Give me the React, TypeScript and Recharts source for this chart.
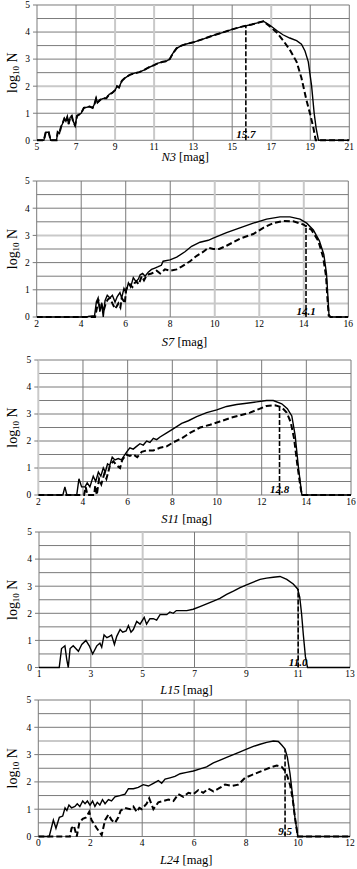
import React from 'react';
import { LineChart, Line, XAxis, YAxis, ReferenceLine, ReferenceDot } from 'recharts';

type Pt = [number, number];

const FONT = 'Liberation Serif, DejaVu Serif, serif';

// ---------- Panel 1: N3 ----------
const n3Ticks = [5, 7, 9, 11, 13, 15, 17, 19, 21];
const n3Solid: Pt[] = [
  [5, 0], [5.35, 0], [5.45, 0.3], [5.6, 0.3], [5.7, 0], [6.0, 0], [6.06, 0.3], [6.15, 0.25], [6.23, 0.5],
  [6.3, 0.6], [6.4, 0.8], [6.48, 0.7], [6.55, 0.85], [6.62, 0.6], [6.7, 0.85], [6.78, 0.9], [6.85, 0.7],
  [6.95, 0.55], [7.05, 0.9], [7.15, 0.95], [7.26, 1.0], [7.4, 1.2], [7.55, 1.22], [7.7, 1.25], [7.85, 1.2],
  [7.95, 1.35], [8.03, 1.55], [8.1, 1.4], [8.25, 1.5], [8.4, 1.55], [8.55, 1.55], [8.7, 1.7], [8.85, 1.75],
  [9.0, 1.85], [9.1, 2.0], [9.2, 1.95], [9.35, 2.2], [9.5, 2.3], [9.75, 2.42], [10.0, 2.48], [10.25, 2.52],
  [10.5, 2.6], [10.75, 2.7], [11.0, 2.78], [11.2, 2.85], [11.45, 2.9], [11.6, 2.92], [11.8, 3.0], [11.95, 3.2],
  [12.15, 3.4], [12.4, 3.5], [12.65, 3.56], [13.0, 3.62], [13.5, 3.74], [14.0, 3.87], [14.5, 3.98], [15.0, 4.1],
  [15.5, 4.2], [16.0, 4.28], [16.3, 4.34], [16.6, 4.4], [16.95, 4.24], [17.3, 4.05], [17.6, 3.9], [17.95, 3.78],
  [18.3, 3.68], [18.55, 3.55], [18.73, 3.3], [18.9, 2.9], [19.07, 2.0], [19.2, 1.0], [19.3, 0.45], [19.42, 0], [21, 0],
];
const n3DashedTail: Pt[] = [
  [16.6, 4.4], [16.95, 4.2], [17.3, 3.97], [17.6, 3.7], [17.95, 3.35], [18.3, 2.9], [18.55, 2.3], [18.8, 1.5],
  [19.0, 0.95], [19.15, 0.5], [19.28, 0], [21, 0],
];
const n3Dashed: Pt[] = [...n3Solid.filter(([x]) => x < 16.6), ...n3DashedTail];
const n3Cut: Pt[] = [[15.7, 0], [15.7, 4.22]];

// ---------- Panel 2: S7 ----------
const s7Ticks = [2, 4, 6, 8, 10, 12, 14, 16];
const s7Solid: Pt[] = [
  [2, 0], [4.0, 0], [4.3, 0.02], [4.6, 0.05], [4.68, 0.55], [4.76, 0.7], [4.84, 0.2], [4.92, 0.5], [4.99, 0],
  [5.07, 0.6], [5.17, 0.8], [5.29, 0.7], [5.4, 0.8], [5.52, 0.55], [5.62, 0.75], [5.74, 0.9], [5.82, 0.7],
  [5.92, 1.05], [6.01, 0.9], [6.12, 1.25], [6.22, 1.1], [6.34, 1.45], [6.46, 1.3], [6.57, 1.4], [6.65, 1.55],
  [6.76, 1.6], [6.87, 1.5], [7.01, 1.65], [7.16, 1.75], [7.31, 1.8], [7.46, 1.85], [7.6, 1.9], [7.68, 2.05],
  [7.99, 2.1], [8.29, 2.2], [8.66, 2.4], [8.96, 2.6], [9.34, 2.75], [9.71, 2.82], [9.93, 2.9], [10.53, 3.1],
  [11.13, 3.28], [11.73, 3.45], [12.33, 3.6], [12.93, 3.68], [13.38, 3.68], [13.83, 3.6], [14.13, 3.45],
  [14.43, 3.2], [14.7, 2.8], [14.9, 2.3], [15.02, 1.6], [15.08, 0.8], [15.13, 0.1], [15.2, 0], [16, 0],
];
const s7Dashed: Pt[] = [
  [2, 0], [4.62, 0], [4.7, 0.3], [4.77, 0.65], [4.84, 0.3], [4.92, 0.45], [5.0, 0.2], [5.1, 0.5], [5.2, 0.65],
  [5.29, 0.7], [5.4, 0.5], [5.52, 0.3], [5.6, 0.4], [5.67, 0.5], [5.76, 0.35], [5.82, 0.7], [5.9, 0.6],
  [5.96, 0.5], [6.01, 1.0], [6.1, 1.15], [6.19, 1.2], [6.3, 1.1], [6.4, 1.25], [6.49, 1.3], [6.58, 1.2],
  [6.72, 1.5], [6.82, 1.35], [6.95, 1.55], [7.16, 1.6], [7.39, 1.7], [7.55, 1.6], [7.76, 1.75], [7.99, 1.7],
  [8.29, 1.75], [8.51, 1.85], [8.89, 2.05], [9.19, 2.25], [9.49, 2.4], [9.71, 2.55], [9.93, 2.5], [10.2, 2.5],
  [10.53, 2.62], [11.13, 2.88], [11.73, 3.05], [12.18, 3.28], [12.63, 3.45], [13.08, 3.53], [13.53, 3.52],
  [13.98, 3.4], [14.35, 3.2], [14.65, 2.8], [14.87, 2.2], [15.0, 1.5], [15.06, 0.7], [15.12, 0.05], [15.2, 0], [16, 0],
];
const s7Cut: Pt[] = [[14.1, 0], [14.1, 3.38]];

// ---------- Panel 3: S11 ----------
const s11Ticks = [2, 4, 6, 8, 10, 12, 14, 16];
const s11Solid: Pt[] = [
  [2, 0], [3.1, 0], [3.19, 0.3], [3.28, 0], [3.72, 0], [3.82, 0.6], [3.94, 0.3], [4.09, 0.3], [4.19, 0.45],
  [4.31, 0.3], [4.46, 0.7], [4.57, 0.5], [4.69, 0.85], [4.8, 0.7], [4.91, 1.0], [5.0, 0.85], [5.1, 1.15],
  [5.2, 1.1], [5.31, 1.4], [5.43, 1.3], [5.58, 1.35], [5.72, 1.3], [5.84, 1.45], [5.96, 1.6], [6.1, 1.75],
  [6.25, 1.7], [6.4, 1.8], [6.55, 1.9], [6.7, 1.85], [6.85, 2.0], [7.0, 1.95], [7.15, 2.1], [7.3, 2.05],
  [7.45, 2.15], [7.75, 2.3], [8.04, 2.45], [8.42, 2.65], [8.72, 2.75], [9.09, 2.9], [9.54, 3.05], [9.99, 3.15],
  [10.43, 3.28], [10.88, 3.35], [11.33, 3.4], [11.78, 3.45], [12.22, 3.5], [12.52, 3.5], [12.9, 3.38],
  [13.15, 3.2], [13.35, 2.93], [13.5, 2.2], [13.65, 1.0], [13.8, 0], [16, 0],
];
const s11Dashed: Pt[] = [
  [2, 0], [4.05, 0], [4.12, 0.3], [4.2, 0], [4.5, 0], [4.55, 0.35], [4.62, 0], [4.72, 0.6], [4.82, 0.4],
  [4.96, 0.8], [5.05, 0.6], [5.21, 1.1], [5.36, 1.25], [5.5, 1.1], [5.66, 1.0], [5.76, 1.3], [5.93, 1.5],
  [6.1, 1.45], [6.25, 1.5], [6.43, 1.4], [6.63, 1.6], [6.85, 1.65], [7.15, 1.65], [7.45, 1.75], [7.75, 1.8],
  [8.04, 1.95], [8.42, 2.1], [8.79, 2.3], [9.24, 2.5], [9.69, 2.6], [10.13, 2.72], [10.58, 2.85], [11.03, 2.95],
  [11.48, 3.05], [11.93, 3.2], [12.22, 3.3], [12.6, 3.32], [12.9, 3.25], [13.12, 3.05], [13.3, 2.7],
  [13.45, 2.1], [13.6, 1.1], [13.72, 0.4], [13.8, 0], [16, 0],
];
const s11Cut: Pt[] = [[12.8, 0], [12.8, 3.28]];

// ---------- Panel 4: L15 ----------
const l15Ticks = [1, 3, 5, 7, 9, 11, 13];
const l15Solid: Pt[] = [
  [1, 0], [1.78, 0], [1.87, 0.7], [2.0, 0.8], [2.07, 0.3], [2.13, 0], [2.2, 0.7], [2.32, 0.8], [2.52, 0.6],
  [2.65, 0.85], [2.81, 1.0], [2.94, 0.8], [3.07, 0.5], [3.23, 0.8], [3.35, 0.9], [3.42, 0.75], [3.51, 1.2],
  [3.62, 1.1], [3.72, 1.15], [3.8, 1.2], [3.91, 0.85], [4.0, 1.15], [4.13, 1.4], [4.23, 1.3], [4.36, 1.35],
  [4.45, 1.55], [4.55, 1.3], [4.64, 1.4], [4.77, 1.7], [4.9, 1.6], [5.06, 1.85], [5.15, 1.6], [5.28, 1.8],
  [5.41, 1.8], [5.54, 1.75], [5.67, 1.95], [5.8, 1.95], [5.93, 1.95], [6.05, 2.05], [6.18, 2.0], [6.3, 2.1],
  [6.44, 2.1], [6.7, 2.1], [6.95, 2.15], [7.21, 2.25], [7.47, 2.35], [7.73, 2.45], [7.98, 2.55], [8.24, 2.7],
  [8.5, 2.82], [8.76, 2.95], [9.01, 3.05], [9.27, 3.15], [9.53, 3.25], [9.78, 3.3], [10.04, 3.33], [10.3, 3.36],
  [10.56, 3.25], [10.81, 3.08], [10.98, 2.9], [11.06, 2.6], [11.13, 2.0], [11.2, 1.2], [11.28, 0.4], [11.36, 0], [13, 0],
];
const l15Cut: Pt[] = [[11.0, 0], [11.0, 2.9]];

// ---------- Panel 5: L24 ----------
const l24Ticks = [0, 2, 4, 6, 8, 10, 12];
const l24Solid: Pt[] = [
  [0, 0], [0.42, 0], [0.58, 0.6], [0.68, 0.3], [0.81, 0.7], [0.94, 0.75], [1.03, 1.05], [1.1, 0.95],
  [1.18, 1.15], [1.28, 1.05], [1.41, 1.1], [1.5, 1.2], [1.6, 1.1], [1.71, 1.3], [1.8, 1.2], [1.89, 1.3],
  [1.99, 1.15], [2.09, 1.3], [2.18, 1.1], [2.27, 1.25], [2.37, 1.15], [2.47, 1.35], [2.57, 1.2], [2.7, 1.35],
  [2.82, 1.3], [2.95, 1.45], [3.14, 1.5], [3.34, 1.55], [3.47, 1.75], [3.66, 1.75], [3.85, 1.8], [4.04, 1.9],
  [4.24, 1.85], [4.43, 1.95], [4.62, 2.05], [4.75, 1.95], [4.88, 2.1], [5.07, 2.15], [5.26, 2.2], [5.46, 2.3],
  [5.71, 2.35], [5.97, 2.4], [6.23, 2.48], [6.48, 2.55], [6.74, 2.7], [7.0, 2.8], [7.25, 2.9], [7.51, 3.0],
  [7.77, 3.1], [8.02, 3.2], [8.28, 3.3], [8.54, 3.38], [8.79, 3.45], [9.05, 3.5], [9.24, 3.48], [9.37, 3.35],
  [9.5, 3.2], [9.59, 2.9], [9.69, 2.3], [9.79, 1.5], [9.88, 0.7], [9.99, 0], [12, 0],
];
const l24Dashed: Pt[] = [
  [0, 0], [1.22, 0], [1.28, 0.3], [1.37, 0.4], [1.48, 0.0], [1.58, 0.5], [1.71, 0.65], [1.84, 0.7],
  [1.96, 0.9], [2.05, 0.6], [2.25, 0.3], [2.44, 0.05], [2.57, 0.6], [2.7, 0.8], [2.82, 0.6], [2.95, 0.5],
  [3.08, 0.7], [3.17, 0.95], [3.34, 1.05], [3.53, 1.0], [3.66, 1.1], [3.79, 0.9], [3.89, 1.05], [3.98, 1.0],
  [4.17, 1.2], [4.27, 1.4], [4.43, 1.0], [4.62, 1.25], [4.81, 1.3], [5.01, 1.35], [5.2, 1.3], [5.39, 1.55],
  [5.58, 1.45], [5.78, 1.6], [5.97, 1.55], [6.16, 1.7], [6.35, 1.6], [6.55, 1.75], [6.74, 1.65], [6.93, 1.75],
  [7.19, 1.9], [7.45, 1.85], [7.7, 1.9], [7.96, 2.15], [8.21, 2.25], [8.47, 2.35], [8.73, 2.45], [8.99, 2.55],
  [9.18, 2.6], [9.37, 2.55], [9.5, 2.4], [9.59, 2.2], [9.69, 1.9], [9.79, 1.4], [9.88, 0.7], [9.99, 0], [12, 0],
];
const l24Cut: Pt[] = [[9.5, 0], [9.5, 3.2]];

// ---------- grid ----------
const yTicks = [0, 1, 2, 3, 4, 5];
const yGrid = [0, 0.5, 1, 1.5, 2, 2.5, 3, 3.5, 4, 4.5, 5];

const toData = (pts: Pt[]) => pts.map(([x, y]) => ({ x, y }));

type PanelCfg = {
  name: string;
  top: number;
  bottom: number;
  left: number;
  right: number;
  titleDy: number;
  ticks: number[];
  solid: Pt[];
  dashed?: Pt[];
  cut: Pt[];
  cutLabel: string;
  lightX: number[];
  lightY: number[];
};

const panels: PanelCfg[] = [
  { name: 'N3', top: 4.7, bottom: 140, left: 37, right: 349.3, titleDy: 21, ticks: n3Ticks, solid: n3Solid, dashed: n3Dashed, cut: n3Cut, cutLabel: '15.7', lightX: [9, 11, 17], lightY: [2] },
  { name: 'S7', top: 180.7, bottom: 316.7, left: 36.7, right: 348.3, titleDy: 29, ticks: s7Ticks, solid: s7Solid, dashed: s7Dashed, cut: s7Cut, cutLabel: '14.1', lightX: [10, 12, 14], lightY: [0.5, 3] },
  { name: 'S11', top: 360, bottom: 495, left: 38.3, right: 351, titleDy: 28, ticks: s11Ticks, solid: s11Solid, dashed: s11Dashed, cut: s11Cut, cutLabel: '12.8', lightX: [2], lightY: [] },
  { name: 'L15', top: 531.5, bottom: 667, left: 39, right: 350, titleDy: 26, ticks: l15Ticks, solid: l15Solid, cut: l15Cut, cutLabel: '11.0', lightX: [5, 9], lightY: [] },
  { name: 'L24', top: 700, bottom: 836.5, left: 38.3, right: 350, titleDy: 27, ticks: l24Ticks, solid: l24Solid, dashed: l24Dashed, cut: l24Cut, cutLabel: '9.5', lightX: [], lightY: [3.5] },
];

const DARK = '#7a7a7a';
const LIGHT = '#c9c9c9';

function XTitle({ viewBox, name, dy }: any) {
  if (!viewBox) return null;
  const cx = viewBox.x + viewBox.width / 2 - 8;
  const cy = viewBox.y + dy;
  return (
    <text x={cx} y={cy} textAnchor="middle" style={{ fontFamily: FONT }} fontFamily={FONT} fontSize={12.5} fill="#000">
      <tspan fontStyle="italic">{name}</tspan>
      <tspan> [mag]</tspan>
    </text>
  );
}

function YTitle({ viewBox }: any) {
  if (!viewBox) return null;
  const cx = viewBox.x + 12;
  const cy = viewBox.y + viewBox.height / 2;
  return (
    <text
      x={cx}
      y={cy}
      transform={`rotate(-90, ${cx}, ${cy})`}
      textAnchor="middle"
      dominantBaseline="central"
      style={{ fontFamily: FONT }}
      fontFamily={FONT}
      fontSize={14}
      fill="#000"
    >
      <tspan>log</tspan>
      <tspan fontSize={9} dy={4}>10</tspan>
      <tspan dy={-4}> N</tspan>
    </text>
  );
}

function Panel({ cfg }: { cfg: PanelCfg }) {
  const mTop = 5;
  const axisH = 40;
  const plotH = cfg.bottom - cfg.top;
  const height = mTop + plotH + axisH;
  const domain: [number, number] = [cfg.ticks[0], cfg.ticks[cfg.ticks.length - 1]];
  const tickStyle = { fontSize: 9.5, fill: '#000', fontFamily: FONT, style: { fontFamily: FONT } };
  return (
    <div style={{ position: 'absolute', left: 0, top: cfg.top - mTop, width: 357, height, fontFamily: FONT }}>
      <LineChart width={357} height={height} margin={{ top: mTop, right: 357 - cfg.right, bottom: 0, left: 0 }} style={{ fontFamily: FONT }}>
        <XAxis
          type="number"
          dataKey="x"
          domain={domain}
          ticks={cfg.ticks}
          interval={0}
          allowDataOverflow
          axisLine={false}
          tickLine={false}
          tickSize={0}
          tickMargin={3}
          height={axisH}
          tick={tickStyle}
          label={{ content: (p: any) => <XTitle viewBox={p.viewBox} name={cfg.name} dy={cfg.titleDy} /> }}
        />
        <YAxis
          type="number"
          domain={[0, 5]}
          ticks={yTicks}
          interval={0}
          width={cfg.left}
          axisLine={false}
          tickLine={{ stroke: DARK }}
          tickSize={4}
          tickMargin={3}
          tick={tickStyle}
          label={{ content: (p: any) => <YTitle viewBox={p.viewBox} /> }}
        />
        {yGrid.map((v) => (
          <ReferenceLine
            key={`h${v}`}
            y={v}
            stroke={cfg.lightY.includes(v) ? LIGHT : DARK}
            strokeWidth={cfg.lightY.includes(v) ? 2 : 1}
          />
        ))}
        {cfg.ticks.map((v) => (
          <ReferenceLine
            key={`v${v}`}
            x={v}
            stroke={cfg.lightX.includes(v) ? LIGHT : DARK}
            strokeWidth={cfg.lightX.includes(v) ? 2 : 1}
          />
        ))}
        {cfg.dashed && (
          <Line
            data={toData(cfg.dashed)}
            dataKey="y"
            type="linear"
            stroke="#000"
            strokeWidth={2}
            strokeDasharray="6 3"
            dot={false}
            isAnimationActive={false}
          />
        )}
        <Line
          data={toData(cfg.solid)}
          dataKey="y"
          type="linear"
          stroke="#000"
          strokeWidth={1.4}
          dot={false}
          isAnimationActive={false}
        />
        <Line
          data={toData(cfg.cut)}
          dataKey="y"
          type="linear"
          stroke="#000"
          strokeWidth={1.6}
          strokeDasharray="5 2"
          dot={false}
          isAnimationActive={false}
        />
        <ReferenceDot
          x={cfg.cut[0][0]}
          y={0}
          r={0}
          fill="none"
          stroke="none"
          label={{
            value: cfg.cutLabel,
            position: 'top',
            offset: 2,
            fontSize: 11,
            fontWeight: 'bold',
            fontStyle: 'italic',
            fill: '#000',
            fontFamily: FONT,
          }}
        />
      </LineChart>
    </div>
  );
}

export default function App() {
  return (
    <div style={{ position: 'absolute', left: 0, top: 0, width: 357, height: 869, background: '#fff', fontFamily: FONT }}>
      {panels.map((p) => (
        <Panel key={p.name} cfg={p} />
      ))}
    </div>
  );
}
